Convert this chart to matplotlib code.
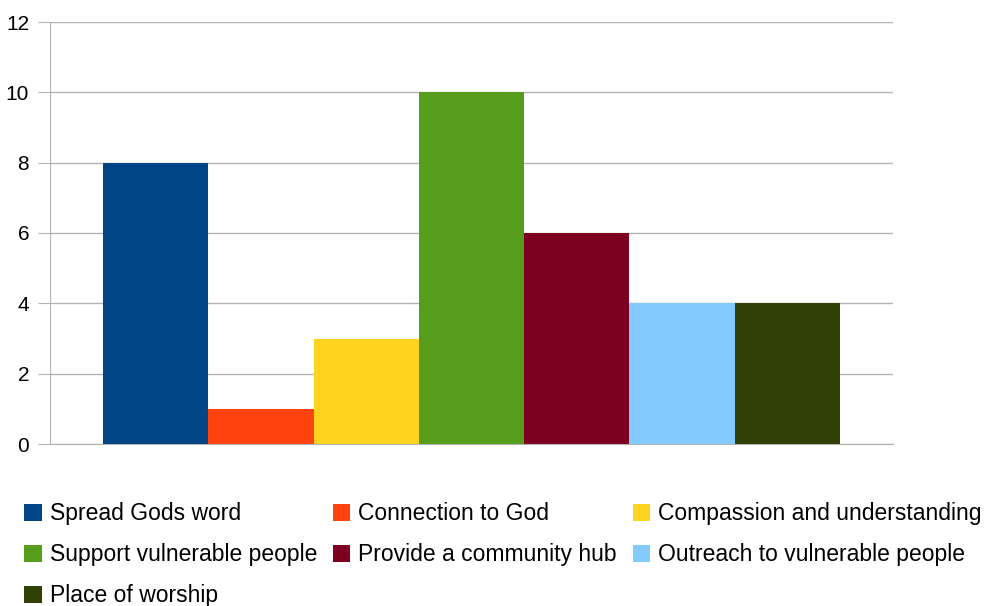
import matplotlib
matplotlib.use("Agg")
import matplotlib.pyplot as plt
from matplotlib.patches import Patch

plt.rcParams['font.family'] = ['Liberation Sans Narrow', 'Liberation Sans', 'DejaVu Sans']

###############################################
LABELS = ["Spread Gods word", "Connection to God", "Compassion and understanding",
          "Support vulnerable people", "Provide a community hub",
          "Outreach to vulnerable people", "Place of worship"]
VALUES = [8, 1, 3, 10, 6, 4, 4]
COLORS = ["#004586", "#ff420e", "#ffd320", "#579d1c", "#7e0021", "#83caff", "#314004"]
Y_TICKS = [0, 2, 4, 6, 8, 10, 12]
###############################################

W, H = 993, 606
fig = plt.figure(figsize=(W / 100, H / 100), dpi=100)
ax = fig.add_axes([50 / W, 1 - 444 / H, 843 / W, 422 / H])

n = len(VALUES)
width = 737 / 843 / n
for i, (v, c) in enumerate(zip(VALUES, COLORS)):
    ax.bar((i - (n - 1) / 2) * width, v, width=width, color=c, linewidth=0)

ax.set_xlim(-0.5, 0.5)
ax.set_ylim(0, 12)
ax.set_yticks(Y_TICKS)
ax.set_xticks([])
ax.grid(axis='y', color='#b3b3b3', linewidth=1)
ax.set_axisbelow(True)
for s in ['top', 'right']:
    ax.spines[s].set_visible(False)
ax.spines['left'].set_color('#b3b3b3')
ax.spines['bottom'].set_color('#b3b3b3')
ax.tick_params(axis='y', length=9, color='#b3b3b3', labelsize=15, pad=6)

# legend is filled column by column, reorder so it reads row by row
order = [0, 3, 6, 1, 4, 2, 5]
handles = [Patch(facecolor=COLORS[i], edgecolor='none') for i in order]
labels = [LABELS[i] for i in order]
fig.legend(handles, labels, ncol=3, loc='upper left', bbox_to_anchor=(13 / W, 1 - 491 / H),
           frameon=False, fontsize=16.5, handlelength=0.75, handleheight=0.75,
           handletextpad=0.35, columnspacing=0.7, labelspacing=0.78, borderpad=0)

fig.savefig("out.png", dpi=100)
